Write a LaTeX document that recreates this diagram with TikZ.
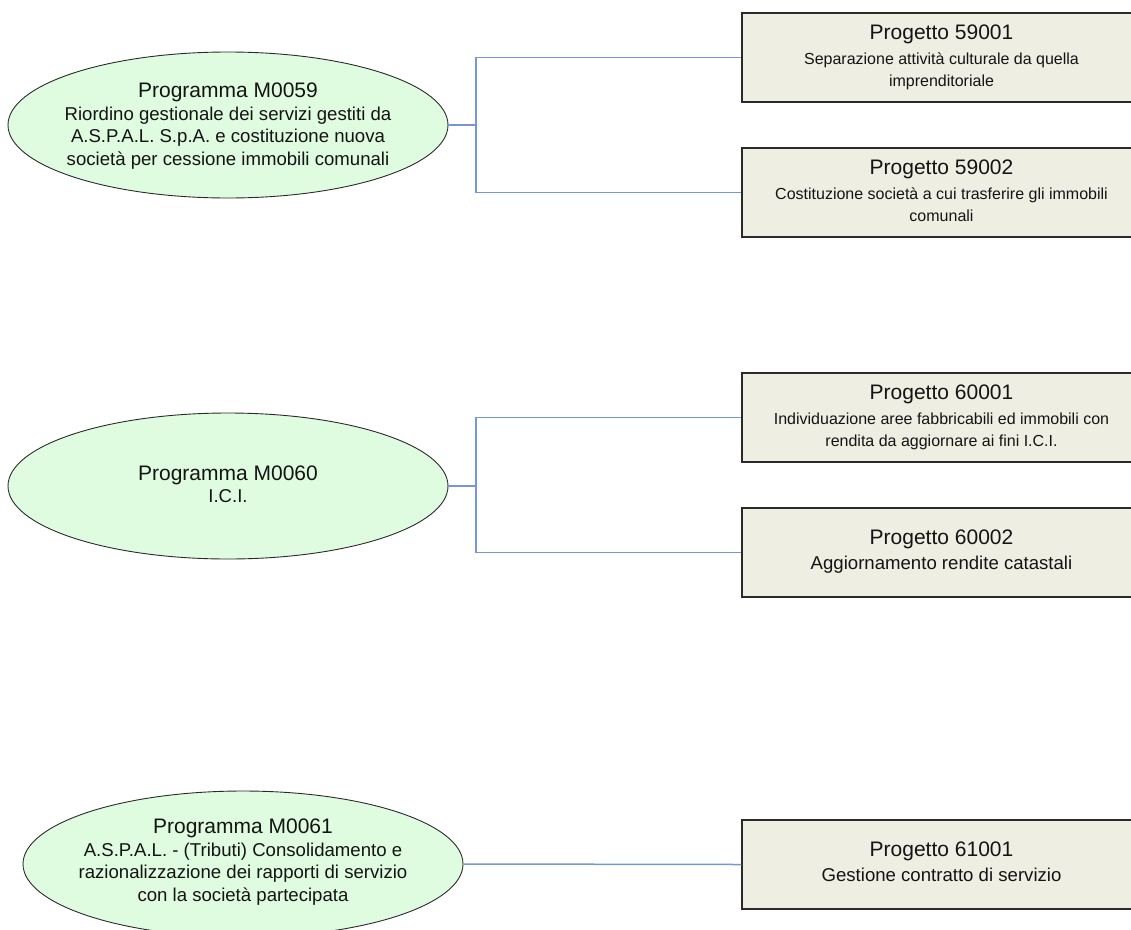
\documentclass[tikz,border=0pt]{standalone}
\usepackage{fontspec}
\setmainfont{Liberation Sans}
\usetikzlibrary{shapes.geometric}
\definecolor{ellfill}{HTML}{E0FCE0}
\definecolor{boxfill}{HTML}{EEEEE3}
\definecolor{conn}{HTML}{7796D6}
\definecolor{edgecol}{HTML}{2A2A2A}
\definecolor{txt}{HTML}{141414}
\newcommand{\tblock}[3]{\begin{tabular}{@{}c@{}}{\fontsize{21}{25}\selectfont #1}\\[#3]#2\end{tabular}}
\newcommand{\lift}[2]{\raisebox{#1}[\height][\depth]{#2}}
\begin{document}
\begin{tikzpicture}[x=1pt,y=-1pt,
  prog/.style={ellipse, draw=edgecol, line width=0.9pt, fill=ellfill,
    minimum width=440pt, minimum height=146pt, inner xsep=-70pt, inner ysep=-10pt,
    font=\fontsize{18.6}{22.5}\selectfont, text=txt},
  proj/.style={rectangle, draw=edgecol, line width=1.1pt, fill=boxfill,
    minimum width=399pt, minimum height=89pt, inner sep=0pt, text=txt},
  smalltxt/.style={font=\fontsize{16}{22}\selectfont},
  bigtxt/.style={font=\fontsize{18.6}{22.5}\selectfont},
  link/.style={draw=conn, line width=1.5pt},
]
\useasboundingbox (0,0) rectangle (1131,929);
\clip (0,0) rectangle (1131,929);

% programmes
\node[prog] (m59) at (228,125) {\lift{-2pt}{\tblock{Programma M0059}{Riordino gestionale dei servizi gestiti da\\A.S.P.A.L. S.p.A. e costituzione nuova\\società per cessione immobili comunali}{0pt}}};
\node[prog] (m60) at (228,486) {\lift{-1pt}{\tblock{Programma M0060}{I.C.I.}{0pt}}};
\node[prog] (m61) at (243,864) {\lift{1pt}{\tblock{Programma M0061}{A.S.P.A.L. - (Tributi) Consolidamento e\\razionalizzazione dei rapporti di servizio\\con la società partecipata}{0pt}}};

% projects
\node[proj, smalltxt] (p59a) at (941.5,57.5) {\lift{-1pt}{\tblock{Progetto 59001}{Separazione attività culturale da quella\\imprenditoriale}{3pt}}};
\node[proj, smalltxt] (p59b) at (941.5,192.5) {\lift{-1pt}{\tblock{Progetto 59002}{Costituzione società a cui trasferire gli immobili\\comunali}{3pt}}};
\node[proj, smalltxt] (p60a) at (941.5,417.5) {\lift{-1pt}{\tblock{Progetto 60001}{Individuazione aree fabbricabili ed immobili con\\rendita da aggiornare ai fini I.C.I.}{3pt}}};
\node[proj, bigtxt] (p60b) at (941.5,552.5) {\tblock{Progetto 60002}{Aggiornamento rendite catastali}{3pt}};
\node[proj, bigtxt] (p61) at (941.5,864.5) {\tblock{Progetto 61001}{Gestione contratto di servizio}{3pt}};

% connectors
\coordinate (j59) at (476,125);
\coordinate (j60) at (476,486);
\draw[link] (m59.east) -- (j59);
\draw[link] (j59) |- (p59a.west);
\draw[link] (j59) |- (p59b.west);
\draw[link] (m60.east) -- (j60);
\draw[link] (j60) |- (p60a.west);
\draw[link] (j60) |- (p60b.west);
\draw[link] (m61.east) -- (p61.west);
\end{tikzpicture}
\end{document}
